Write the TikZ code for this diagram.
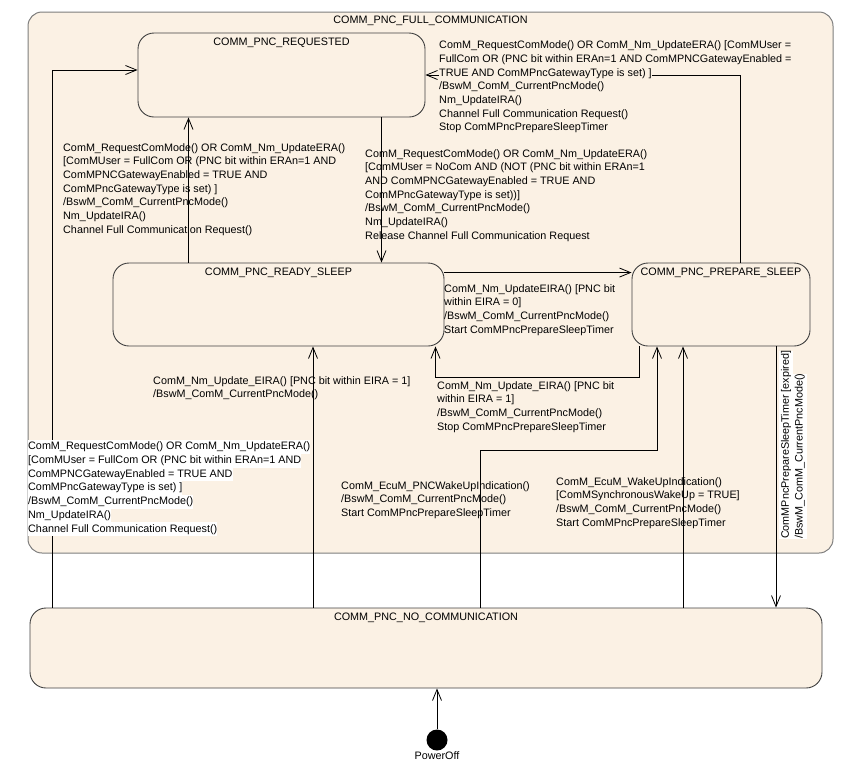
\documentclass[tikz,border=0pt]{standalone}
\usepackage{fontspec}
\setmainfont{Liberation Sans}
\usepackage{xcolor}
\usetikzlibrary{arrows.meta,calc}
\definecolor{statefill}{RGB}{251,241,228}
\definecolor{frameline}{RGB}{125,125,125}
\newcommand{\labelfont}{\fontsize{10.8}{13.7}\selectfont}
\newcommand{\hlwhite}[1]{{\setlength{\fboxsep}{0pt}\colorbox{white}{\strut #1}}}
\newcommand{\hlstate}[1]{{\setlength{\fboxsep}{0pt}\colorbox{statefill}{\strut #1}}}

\begin{document}
\begin{tikzpicture}[
    x=1pt, y=-1pt,
    font=\labelfont,
    frame/.style={draw=frameline, fill=statefill, rounded corners=14pt, line width=1pt, inner sep=0pt},
    state/.style={draw=black!75, fill=statefill, rounded corners=16pt, line width=0.9pt, inner sep=0pt},
    title/.style={anchor=north, yshift=-5pt, inner sep=0pt},
    trlabel/.style={anchor=north west, align=left, inner sep=0pt},
    trans/.style={-{Straight Barb[length=11pt,width=9pt]}, line width=0.8pt},
    initial/.style={circle, fill=black, minimum size=21pt, inner sep=0pt}
]
\useasboundingbox (0,0) rectangle (845,769);
\node[frame, minimum width=805pt, minimum height=541pt, label={[title, yshift=1pt]north:COMM\_PNC\_FULL\_COMMUNICATION}] (fullcomm) at (430.5,282.5) {};
\node[state, minimum width=287pt, minimum height=84pt, label={[title]north:COMM\_PNC\_REQUESTED}] (requested) at (281.5,75) {};
\node[state, minimum width=331pt, minimum height=83pt, label={[title]north:COMM\_PNC\_READY\_SLEEP}] (readysleep) at (278.5,304.5) {};
\node[state, minimum width=178pt, minimum height=83pt, label={[title]north:COMM\_PNC\_PREPARE\_SLEEP}] (preparesleep) at (721,304.5) {};
\node[state, minimum width=792pt, minimum height=80pt, label={[title]north:COMM\_PNC\_NO\_COMMUNICATION}] (nocomm) at (426,648) {};
\node[initial, label={[inner sep=1pt]below:PowerOff}] (poweroff) at (437,740) {};

\draw[trans] ([xshift=-90pt]readysleep.north) -- ([xshift=-90pt]readysleep.north |- requested.south);
\draw[trans] ([xshift=100pt]requested.south) -- ([xshift=100pt]requested.south |- readysleep.north);
\draw[trans] ([xshift=19pt]preparesleep.north) |- (requested.east);
\draw[trans] ([yshift=-10pt]readysleep.north east) -- ([yshift=-10pt]readysleep.north east -| preparesleep.west);
\draw[trans] ([xshift=-82pt]preparesleep.south) -- ++(0,31) -| ([xshift=157pt]readysleep.south);
\draw[trans] ([xshift=-113pt]nocomm.north) -- ([xshift=-113pt]nocomm.north |- readysleep.south);
\draw[trans] ([xshift=54pt]nocomm.north) -- ++(0,-157) -| ([xshift=-64pt]preparesleep.south);
\draw[trans] ([xshift=-38pt]preparesleep.south |- nocomm.north) -- ([xshift=-38pt]preparesleep.south);
\draw[trans] ([xshift=55pt]preparesleep.south) -- ([xshift=55pt]preparesleep.south |- nocomm.north);
\draw[trans] ([xshift=-374pt]nocomm.north) |- ([yshift=5pt]requested.west);
\draw[trans] (poweroff) -- (poweroff |- nocomm.south);

\node[trlabel] (lblreadyreq) at (63,143) {ComM\_RequestComMode() OR ComM\_Nm\_UpdateERA()\\{}[ComMUser = FullCom OR (PNC bit within ERAn=1 AND\\ComMPNCGatewayEnabled = TRUE AND\\ComMPncGatewayType is set) ]\\/BswM\_ComM\_CurrentPncMode()\\Nm\_UpdateIRA()\\Channel Full Communication Request()};
\node[trlabel] (lblreqready) at (365,149) {ComM\_RequestComMode() OR ComM\_Nm\_UpdateERA()\\{}[ComMUser = NoCom AND (NOT (PNC bit within ERAn=1\\AND ComMPNCGatewayEnabled = TRUE AND\\ComMPncGatewayType is set))]\\/BswM\_ComM\_CurrentPncMode()\\Nm\_UpdateIRA()\\Release Channel Full Communication Request};
\node[trlabel] (lblprepreq) at (439,39) {\hlstate{ComM\_RequestComMode() OR ComM\_Nm\_UpdateERA() [ComMUser =}\\\hlstate{FullCom OR (PNC bit within ERAn=1 AND ComMPNCGatewayEnabled =}\\\hlstate{TRUE AND ComMPncGatewayType is set) ]}\\\hlstate{/BswM\_ComM\_CurrentPncMode()}\\\hlstate{Nm\_UpdateIRA()}\\\hlstate{Channel Full Communication Request()}\\\hlstate{Stop ComMPncPrepareSleepTimer}};
\node[trlabel] (lblreadyprep) at (444,284) {ComM\_Nm\_UpdateEIRA() [PNC bit\\within EIRA = 0]\\/BswM\_ComM\_CurrentPncMode()\\Start ComMPncPrepareSleepTimer};
\node[trlabel] (lblprepready) at (437,381) {ComM\_Nm\_Update\_EIRA() [PNC bit\\within EIRA = 1]\\/BswM\_ComM\_CurrentPncMode()\\Stop ComMPncPrepareSleepTimer};
\node[trlabel] (lblnoready) at (153,376) {ComM\_Nm\_Update\_EIRA() [PNC bit within EIRA = 1]\\/BswM\_ComM\_CurrentPncMode()};
\node[trlabel] (lblpncwakeup) at (341,481) {ComM\_EcuM\_PNCWakeUpIndication()\\/BswM\_ComM\_CurrentPncMode()\\Start ComMPncPrepareSleepTimer};
\node[trlabel] (lblwakeup) at (556,477) {ComM\_EcuM\_WakeUpIndication()\\{}[ComMSynchronousWakeUp = TRUE]\\/BswM\_ComM\_CurrentPncMode()\\Start ComMPncPrepareSleepTimer};
\node[trlabel] (lblnoreq) at (28,440) {\hlwhite{ComM\_RequestComMode() OR ComM\_Nm\_UpdateERA()}\\\hlwhite{[ComMUser = FullCom OR (PNC bit within ERAn=1 AND}\\\hlwhite{ComMPNCGatewayEnabled = TRUE AND}\\\hlwhite{ComMPncGatewayType is set) ]}\\\hlwhite{/BswM\_ComM\_CurrentPncMode()}\\\hlwhite{Nm\_UpdateIRA()}\\\hlwhite{Channel Full Communication Request()}};
\node[trlabel, rotate=90] (lbltimer) at (779,539) {\hlwhite{ComMPncPrepareSleepTimer [expired]}\\\hlwhite{/BswM\_ComM\_CurrentPncMode()}};
\end{tikzpicture}
\end{document}
